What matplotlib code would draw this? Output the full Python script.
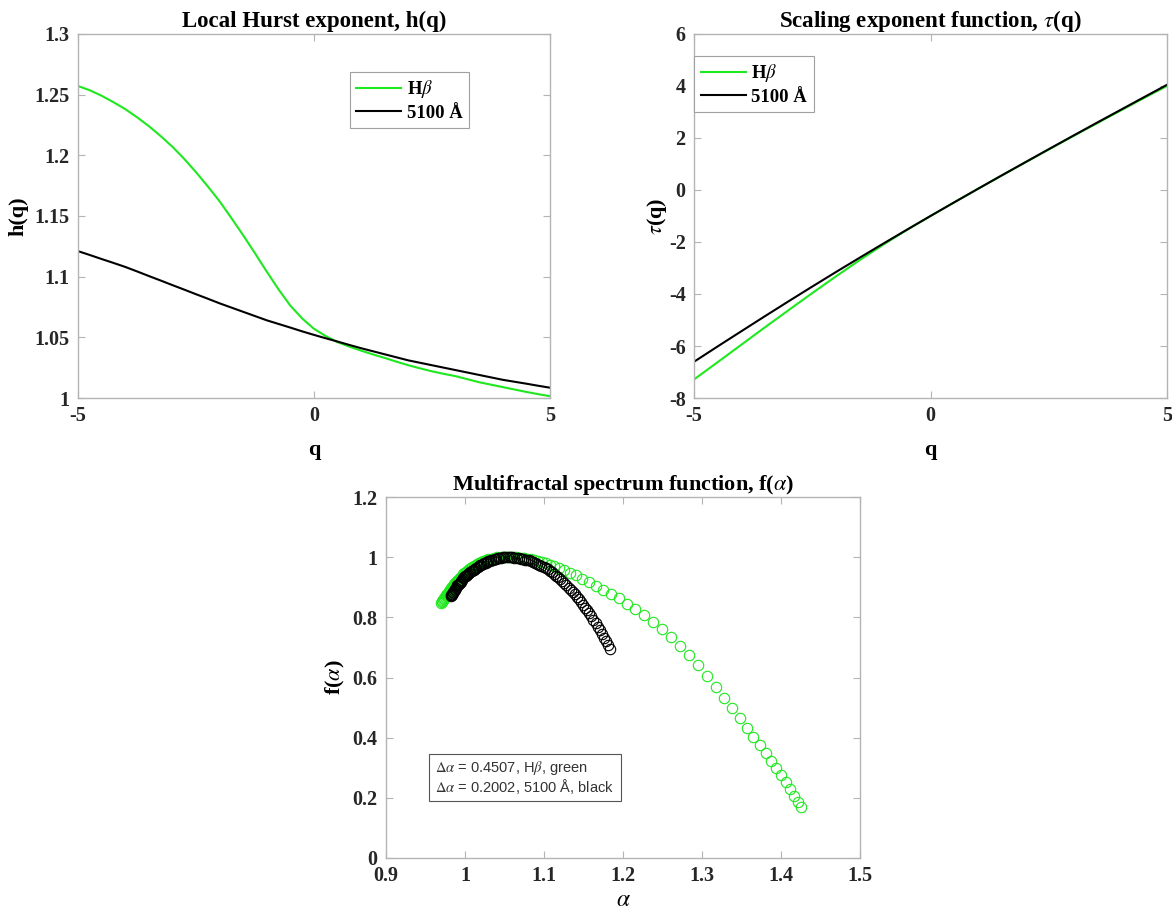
import matplotlib
matplotlib.use("Agg")
import matplotlib.pyplot as plt
from matplotlib.patches import Rectangle

# ---- data ----
q = [-5, -4.75, -4.5, -4.25, -4, -3.75, -3.5, -3.25, -3, -2.75, -2.5, -2.25, -2, -1.75,
     -1.5, -1.25, -1, -0.75, -0.5, -0.25, 0, 0.25, 0.5, 0.75, 1, 1.25, 1.5, 1.75, 2,
     2.25, 2.5, 2.75, 3, 3.25, 3.5, 3.75, 4, 4.25, 4.5, 4.75, 5]

h_hb = [1.257, 1.2535, 1.249, 1.2437, 1.238, 1.2313, 1.224, 1.2158, 1.207, 1.197, 1.186,
        1.1743, 1.162, 1.1482, 1.134, 1.1192, 1.104, 1.0894, 1.076, 1.0655, 1.057, 1.051,
        1.046, 1.0423, 1.039, 1.0359, 1.033, 1.0299, 1.027, 1.0244, 1.022, 1.0199, 1.018,
        1.0155, 1.013, 1.011, 1.009, 1.007, 1.005, 1.0032, 1.0015]
h_5100 = [1.121, 1.1178, 1.1145, 1.1113, 1.108, 1.1043, 1.1005, 1.0968, 1.093, 1.0893,
          1.0855, 1.0818, 1.078, 1.0745, 1.071, 1.0675, 1.064, 1.061, 1.058, 1.0549, 1.052,
          1.0492, 1.0465, 1.0437, 1.041, 1.0385, 1.036, 1.0335, 1.031, 1.029, 1.027, 1.025,
          1.023, 1.021, 1.019, 1.017, 1.015, 1.0134, 1.0118, 1.0101, 1.0085]

q_tau = [-5, -4.5, -4, -3.5, -3, -2.5, -2, -1.5, -1, -0.5, 0,
         0.5, 1, 1.5, 2, 2.5, 3, 3.5, 4, 4.5, 5]
tau_hb = [-7.285, -6.62, -5.95, -5.28, -4.62, -3.965, -3.324, -2.70, -2.104, -1.538, -1.0,
          -0.477, 0.039, 0.55, 1.054, 1.555, 2.054, 2.546, 3.036, 3.523, 4.0]
tau_5100 = [-6.605, -6.015, -5.432, -4.852, -4.279, -3.714, -3.156, -2.607, -2.064, -1.529, -1.0,
            -0.477, 0.041, 0.554, 1.062, 1.568, 2.069, 2.567, 3.06, 3.553, 4.043]

# multifractal spectrum, H-beta (green)
alpha_hb = [1.425, 1.421, 1.4165, 1.4115, 1.406, 1.400, 1.394, 1.3875, 1.3805, 1.373,
            1.365, 1.3565, 1.3475, 1.338, 1.328, 1.3175, 1.3065, 1.295, 1.2835, 1.272,
            1.2605, 1.249, 1.2375, 1.2265, 1.2155, 1.205, 1.1945, 1.1845, 1.175, 1.1655,
            1.1565, 1.148, 1.140, 1.1325, 1.1255, 1.119, 1.113, 1.1075, 1.102, 1.097,
            1.092, 1.0875, 1.083, 1.079, 1.075, 1.0715, 1.068, 1.0645, 1.0615, 1.0585,
            1.0555,
            1.0502, 1.0453, 1.0409, 1.0368, 1.0330, 1.0295, 1.0263, 1.0233, 1.0205, 1.0179,
            1.0155, 1.0133, 1.0112, 1.0092, 1.0073, 1.0055, 1.0039, 1.0023, 1.0008, 0.9993,
            0.9980, 0.9966, 0.9954, 0.9942, 0.9930, 0.9918, 0.9907, 0.9896, 0.9886, 0.9876,
            0.9866, 0.9856, 0.9846, 0.9836, 0.9827, 0.9818, 0.9809, 0.9800, 0.9791, 0.9782,
            0.9773, 0.9765, 0.9756, 0.9748, 0.9739, 0.9731, 0.9722, 0.9714, 0.9706, 0.9697]
f_hb = [0.170, 0.186, 0.205, 0.229, 0.251, 0.275, 0.298, 0.323, 0.348, 0.375,
        0.4025, 0.432, 0.464, 0.497, 0.532, 0.568, 0.604, 0.640, 0.6745, 0.705,
        0.734, 0.760, 0.785, 0.807, 0.828, 0.846, 0.863, 0.8775, 0.891, 0.905,
        0.918, 0.929, 0.940, 0.949, 0.957, 0.964, 0.970, 0.975, 0.980, 0.984,
        0.987, 0.990, 0.993, 0.995, 0.9965, 0.9979, 0.9987, 0.9994, 0.9997, 0.9999,
        1.000,
        0.9997, 0.9994, 0.9991, 0.9971, 0.9948, 0.9925, 0.9893, 0.9863, 0.9835, 0.9799,
        0.9763, 0.9729, 0.9697, 0.9663, 0.9626, 0.9591, 0.9557, 0.9526, 0.9496, 0.9462,
        0.9425, 0.9389, 0.9355, 0.9322, 0.9290, 0.9259, 0.9229, 0.9198, 0.9163, 0.9129,
        0.9096, 0.9063, 0.9031, 0.9000, 0.8969, 0.8939, 0.8909, 0.8879, 0.8844, 0.8810,
        0.8776, 0.8743, 0.8709, 0.8676, 0.8643, 0.8611, 0.8578, 0.8545, 0.8513, 0.8480]

# multifractal spectrum, 5100 A continuum (black)
alpha_5100 = [1.1836, 1.1810, 1.1783, 1.1757, 1.1731, 1.1704, 1.1678, 1.1652, 1.1625, 1.1599,
              1.1573, 1.1546, 1.1520, 1.1494, 1.1468, 1.1441, 1.1415, 1.1389, 1.1362, 1.1336,
              1.1310, 1.1283, 1.1257, 1.1231, 1.1204, 1.1178, 1.1152, 1.1125, 1.1099, 1.1073,
              1.1046, 1.1020, 1.0994, 1.0967, 1.0941, 1.0915, 1.0889, 1.0862, 1.0836, 1.0810,
              1.0783, 1.0757, 1.0731, 1.0704, 1.0678, 1.0652, 1.0625, 1.0599, 1.0573, 1.0546,
              1.0520,
              1.0498, 1.0476, 1.0455, 1.0434, 1.0413, 1.0393, 1.0373, 1.0353, 1.0334, 1.0315,
              1.0296, 1.0278, 1.0260, 1.0242, 1.0224, 1.0207, 1.0190, 1.0174, 1.0158, 1.0142,
              1.0127, 1.0111, 1.0097, 1.0082, 1.0068, 1.0054, 1.0041, 1.0027, 1.0015, 1.0002,
              0.9990, 0.9978, 0.9966, 0.9955, 0.9944, 0.9934, 0.9923, 0.9914, 0.9904, 0.9895,
              0.9886, 0.9877, 0.9869, 0.9861, 0.9853, 0.9846, 0.9839, 0.9832, 0.9826, 0.9820]
f_5100 = [0.694, 0.707, 0.7202, 0.7326, 0.7451, 0.7581, 0.7695, 0.7806, 0.7923, 0.8034,
          0.813, 0.823, 0.8326, 0.842, 0.8506, 0.8595, 0.868, 0.8762, 0.884, 0.8916,
          0.8991, 0.9064, 0.9132, 0.9199, 0.927, 0.9328, 0.9386, 0.9445, 0.9502, 0.9546,
          0.9592, 0.9636, 0.9678, 0.9713, 0.9747, 0.9781, 0.9811, 0.9838, 0.9864, 0.989,
          0.9909, 0.9922, 0.9934, 0.9948, 0.9962, 0.9973, 0.9983, 0.999, 0.9996, 0.9999,
          1.000,
          0.9998, 0.9994, 0.9987, 0.9977, 0.9965, 0.9949, 0.9932, 0.9915, 0.9899, 0.9882,
          0.9865, 0.9841, 0.9817, 0.9794, 0.9772, 0.9749, 0.9724, 0.9696, 0.9668, 0.9641,
          0.9615, 0.9589, 0.9563, 0.9532, 0.9503, 0.9474, 0.9445, 0.9418, 0.9391, 0.9364,
          0.9328, 0.9292, 0.9256, 0.9221, 0.9187, 0.9154, 0.9123, 0.9092, 0.9062, 0.9027,
          0.8987, 0.8950, 0.8914, 0.8879, 0.8846, 0.8814, 0.8783, 0.8754, 0.8727, 0.8701]

delta_alpha_hb = 0.4507
delta_alpha_5100 = 0.2002

green = "#1ee81e"
spine_gray = "#b4b4b4"
tick_color = "#262626"

plt.rcParams["font.family"] = ["Liberation Serif", "DejaVu Serif"]
plt.rcParams["mathtext.fontset"] = "stix"
plt.rcParams["axes.unicode_minus"] = False

fig = plt.figure(figsize=(11.72, 9.15), dpi=100)
ax1 = fig.add_axes([0.0666, 0.565, 0.4027, 0.398])
ax2 = fig.add_axes([0.5922, 0.565, 0.4036, 0.398])
ax3 = fig.add_axes([0.3294, 0.0623, 0.4044, 0.3945])


def style(ax):
    for s in ax.spines.values():
        s.set_color(spine_gray)
        s.set_linewidth(1.0)
    ax.tick_params(direction="in", length=5, width=0.8, color=spine_gray,
                   top=True, right=True, labelsize=14.5, labelcolor=tick_color, pad=6)
    for lab in ax.get_xticklabels() + ax.get_yticklabels():
        lab.set_fontweight("bold")


def legend_box(ax, anchor):
    leg = ax.legend(loc="upper left", bbox_to_anchor=anchor, fancybox=False,
                    edgecolor="#a0a0a0", framealpha=1, handlelength=2.4,
                    handletextpad=0.3, borderpad=0.35, labelspacing=0.22,
                    prop={"weight": "bold", "size": 13.5}, borderaxespad=0)
    leg.get_frame().set_linewidth(0.8)


fmt = plt.FuncFormatter(lambda v, p: "%g" % round(v, 4))

# ---- h(q) ----
ax1.plot(q, h_hb, color=green, lw=1.5, label=r"H$\beta$")
ax1.plot(q, h_5100, color="black", lw=1.5, label="5100 Å")
ax1.set_xlim(-5, 5)
ax1.set_ylim(1, 1.3)
ax1.set_xticks([-5, 0, 5])
ax1.set_yticks([1, 1.05, 1.1, 1.15, 1.2, 1.25, 1.3])
ax1.yaxis.set_major_formatter(fmt)
ax1.set_title("Local Hurst exponent, h(q)", fontsize=16.5, fontweight="bold", pad=5)
ax1.set_xlabel("q", fontsize=16, fontweight="bold", labelpad=10)
ax1.set_ylabel("h(q)", fontsize=16, fontweight="bold", labelpad=4)
legend_box(ax1, (0.576, 0.896))
style(ax1)

# ---- tau(q) ----
ax2.plot(q_tau, tau_hb, color=green, lw=1.5, label=r"H$\beta$")
ax2.plot(q_tau, tau_5100, color="black", lw=1.5, label="5100 Å")
ax2.set_xlim(-5, 5)
ax2.set_ylim(-8, 6)
ax2.set_xticks([-5, 0, 5])
ax2.set_yticks(range(-8, 7, 2))
ax2.set_title(r"Scaling exponent function, $\tau$(q)", fontsize=16.5, fontweight="bold", pad=5)
ax2.set_xlabel("q", fontsize=16, fontweight="bold", labelpad=10)
ax2.set_ylabel(r"$\tau$(q)", fontsize=16, fontweight="bold", labelpad=0)
legend_box(ax2, (0.0, 0.94))
style(ax2)

# ---- f(alpha) ----
ax3.plot(alpha_hb, f_hb, "o", mfc="none", mec=green, ms=7.5, mew=0.8)
ax3.plot(alpha_5100, f_5100, "o", mfc="none", mec="black", ms=7.5, mew=0.8)
ax3.set_xlim(0.9, 1.5)
ax3.set_ylim(0, 1.2)
ax3.set_xticks([0.9, 1.0, 1.1, 1.2, 1.3, 1.4, 1.5])
ax3.set_yticks([0, 0.2, 0.4, 0.6, 0.8, 1.0, 1.2])
ax3.xaxis.set_major_formatter(fmt)
ax3.yaxis.set_major_formatter(fmt)
ax3.set_title(r"Multifractal spectrum function, f($\alpha$)", fontsize=16, fontweight="bold", pad=5)
ax3.set_xlabel(r"$\alpha$", fontsize=17, labelpad=3)
ax3.set_ylabel(r"f($\alpha$)", fontsize=16, fontweight="bold", labelpad=4)

ax3.add_patch(Rectangle((0.0907, 0.158), 0.405, 0.130, transform=ax3.transAxes,
                        fc="white", ec="#555555", lw=0.8, zorder=5))
note = (r"$\Delta\alpha$ = %.4f, H$\beta$, green" % delta_alpha_hb + "\n"
        + r"$\Delta\alpha$ = %.4f, 5100 Å, black" % delta_alpha_5100)
ax3.text(0.103, 0.223, note, transform=ax3.transAxes, fontsize=10.5,
         family=["Liberation Sans", "DejaVu Sans"], color="#333333",
         va="center", ha="left", linespacing=1.05, zorder=6)
style(ax3)

fig.savefig("out.png", dpi=100)
